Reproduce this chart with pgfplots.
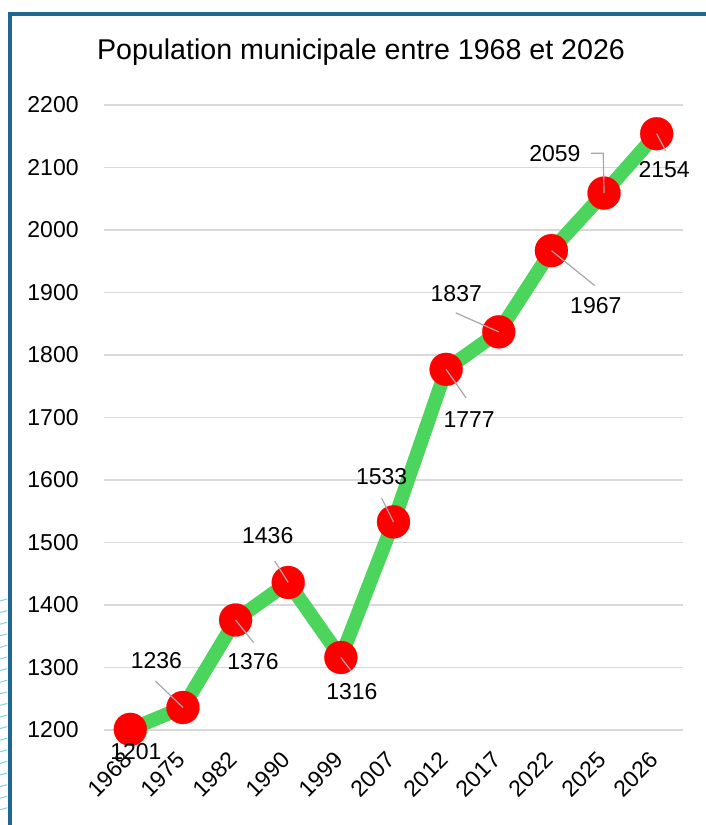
\documentclass[border=0pt]{standalone}
\usepackage{pgfplots}
\pgfplotsset{compat=1.18}
\usepackage{fontspec}
\setmainfont{Liberation Sans}
\definecolor{framecol}{HTML}{1F6690}
\definecolor{linegreen}{HTML}{4CD55C}
\definecolor{gridgray}{HTML}{D9D9D9}
\definecolor{leadgray}{HTML}{A6A6A6}
\definecolor{deco}{HTML}{7FD3DD}
\pgfplotsset{base/.style={
  at={(52pt,47.5pt)}, anchor=south west,
  scale only axis, width=289.5pt, height=312.5pt,
  xmin=-0.5, xmax=10.5, ymin=1200, ymax=2200,
  clip=false}}
\begin{document}
\begin{tikzpicture}
\path[use as bounding box] (0,0) rectangle (353pt,412.5pt);
% decorative stripes at lower left
\foreach \k in {0,...,18} {
  \draw[deco, line width=0.5pt] (0pt,{112pt-\k*5.8pt}) -- (3.6pt,{113pt-\k*5.8pt});
}
% frame
\draw[framecol, line width=2pt] (4.75pt,-2pt) -- (4.75pt,405.6pt) -- (356pt,405.6pt);
% title
\node[font=\fontsize{14.3}{16}\selectfont] at (180.5pt,386.5pt) {Population municipale entre 1968 et 2026};
\begin{axis}[
  base,
  axis line style={draw=none},
  tick style={draw=none},
  ytick={1200,1300,...,2200},
  xtick={0,...,10},
  xticklabels={1968,1975,1982,1990,1999,2007,2012,2017,2022,2025,2026},
  ymajorgrids, grid style={gridgray, line width=0.8pt},
  /pgf/number format/assume math mode=true,
  /pgf/number format/1000 sep={},
  ticklabel style={font=\fontsize{11.5}{13}\selectfont, text=black},
  yticklabel style={inner sep=0pt, xshift=-12.5pt},
  xticklabel style={xshift=-1pt, yshift=-13pt, rotate=45, anchor=east, inner sep=0pt},
]
\addplot[linegreen, line width=7pt, mark=*, mark size=8.25pt,
  mark options={fill=red, draw=red, line width=0.1pt}] coordinates {
  (0,1201) (1,1236) (2,1376) (3,1436) (4,1316) (5,1533)
  (6,1777) (7,1837) (8,1967) (9,2059) (10,2154)
};
\end{axis}
\begin{axis}[base, hide axis]
% leader lines
\begin{scope}[leadgray, line width=0.6pt]
\draw ([xshift=-13.75pt,yshift=13.25pt]axis cs:1,1236) -- (axis cs:1,1236);
\draw (axis cs:2,1376) -- ([xshift=9pt,yshift=-11.3pt]axis cs:2,1376);
\draw ([xshift=-6.75pt,yshift=10.75pt]axis cs:3,1436) -- (axis cs:3,1436);
\draw (axis cs:4,1316) -- ([xshift=5pt,yshift=-6.5pt]axis cs:4,1316);
\draw ([xshift=-5.9pt,yshift=11.8pt]axis cs:5,1533) -- (axis cs:5,1533);
\draw (axis cs:6,1777) -- ([xshift=10pt,yshift=-14.3pt]axis cs:6,1777);
\draw ([xshift=-21.5pt,yshift=9.5pt]axis cs:7,1837) -- (axis cs:7,1837);
\draw (axis cs:8,1967) -- ([xshift=21.7pt,yshift=-17.5pt]axis cs:8,1967);
\draw ([xshift=-6.4pt,yshift=19.9pt]axis cs:9,2059) -- ([xshift=-0.4pt,yshift=19.9pt]axis cs:9,2059) -- (axis cs:9,2059);
\draw (axis cs:10,2154) -- ([xshift=4.5pt,yshift=-8.5pt]axis cs:10,2154);
\end{scope}
% data labels
\begin{scope}[every node/.style={font=\fontsize{11.5}{13}\selectfont, inner sep=0pt}]
\node at ([xshift=2.8pt,yshift=-11pt]axis cs:0,1201) {1201};
\node at ([xshift=-13.25pt,yshift=23.25pt]axis cs:1,1236) {1236};
\node at ([xshift=8.7pt,yshift=-20.8pt]axis cs:2,1376) {1376};
\node at ([xshift=-10.25pt,yshift=23.25pt]axis cs:3,1436) {1436};
\node at ([xshift=5.5pt,yshift=-17pt]axis cs:4,1316) {1316};
\node at ([xshift=-5.9pt,yshift=22.6pt]axis cs:5,1533) {1533};
\node at ([xshift=11.5pt,yshift=-25.3pt]axis cs:6,1777) {1777};
\node at ([xshift=-21.25pt,yshift=19.3pt]axis cs:7,1837) {1837};
\node at ([xshift=22.2pt,yshift=-27.5pt]axis cs:8,1967) {1967};
\node at ([xshift=-24.6pt,yshift=19.9pt]axis cs:9,2059) {2059};
\node at ([xshift=3.75pt,yshift=-18.1pt]axis cs:10,2154) {2154};
\end{scope}
\end{axis}
\end{tikzpicture}
\end{document}
